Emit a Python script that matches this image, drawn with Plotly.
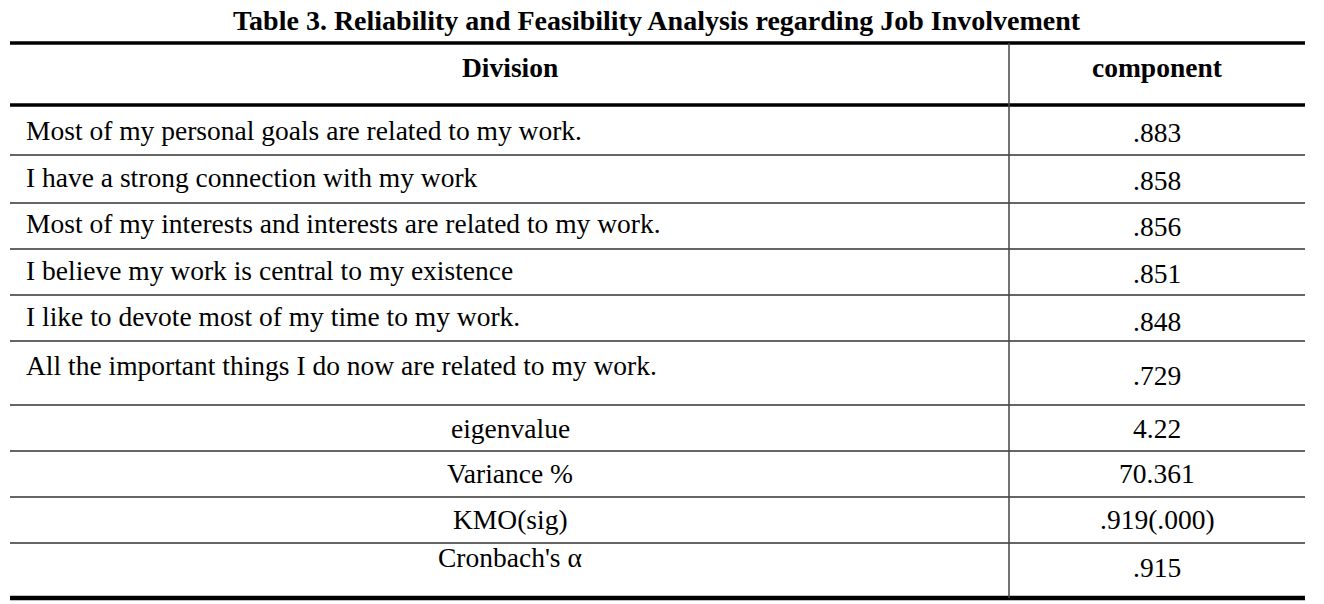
import plotly.graph_objects as go

title = "Table 3. Reliability and Feasibility Analysis regarding Job Involvement"
header = ["Division", "component"]
items = [
    "Most of my personal goals are related to my work.",
    "I have a strong connection with my work",
    "Most of my interests and interests are related to my work.",
    "I believe my work is central to my existence",
    "I like to devote most of my time to my work.",
    "All the important things I do now are related to my work.",
]
item_values = [".883", ".858", ".856", ".851", ".848", ".729"]
stats = ["eigenvalue", "Variance %", "KMO(sig)", "Cronbach's α"]
stat_values = ["4.22", "70.361", ".919(.000)", ".915"]

W, H = 1324, 604
X0, XD, X1 = 10, 1009, 1305
row_bounds = [43, 105, 155, 203, 249, 295, 341, 405, 451, 497, 543, 598]
label_y = [67, 130, 177, 223, 270, 316, 365, 428, 473, 519, 557]
value_y = [67, 132, 180, 226, 273, 321, 375, 428, 473, 519, 567]

FONT = "Liberation Serif, Times New Roman, serif"
fs = 27.5

fig = go.Figure()
shapes = []
ann = []

def A(x, y, t, anchor="center", size=fs):
    return dict(x=x, y=y, text=t, showarrow=False, xanchor=anchor, yanchor="middle",
                font=dict(family=FONT, size=size, color="black"))

ann.append(A(657, 20, "<b>" + title + "</b>", size=28))
ann.append(A(510, label_y[0], "<b>" + header[0] + "</b>"))
ann.append(A(1157, value_y[0], "<b>" + header[1] + "</b>"))

for i, (t, v) in enumerate(zip(items, item_values)):
    ann.append(A(24, label_y[i + 1], t, anchor="left"))
    ann.append(A(1157, value_y[i + 1], v))

off = 1 + len(items)
for j, (t, v) in enumerate(zip(stats, stat_values)):
    ann.append(A(510, label_y[off + j], t))
    ann.append(A(1157, value_y[off + j], v))

for k, yb in enumerate(row_bounds):
    if k in (0, 1):
        w, c = 3.5, "black"
    elif k == len(row_bounds) - 1:
        w, c = 4.5, "black"
    else:
        w, c = 1.5, "#333333"
    shapes.append(dict(type="line", x0=X0, x1=X1, y0=yb, y1=yb, xref="x", yref="y",
                       line=dict(color=c, width=w)))
shapes.append(dict(type="line", x0=XD, x1=XD, y0=row_bounds[0], y1=row_bounds[-1], xref="x", yref="y",
                   line=dict(color="#444444", width=1.5)))

fig.add_trace(go.Scatter(x=[0, W], y=[0, H], mode="markers", marker=dict(opacity=0),
                         hoverinfo="skip", showlegend=False))
fig.update_layout(width=W, height=H, margin=dict(l=0, r=0, t=0, b=0),
                  paper_bgcolor="white", plot_bgcolor="white",
                  xaxis=dict(range=[0, W], visible=False, fixedrange=True),
                  yaxis=dict(range=[H, 0], visible=False, fixedrange=True),
                  shapes=shapes, annotations=ann, showlegend=False)
fig.write_html("out.html", config={"displayModeBar": False, "staticPlot": True},
               post_script="document.body.style.margin='0';document.body.style.overflow='hidden';")
